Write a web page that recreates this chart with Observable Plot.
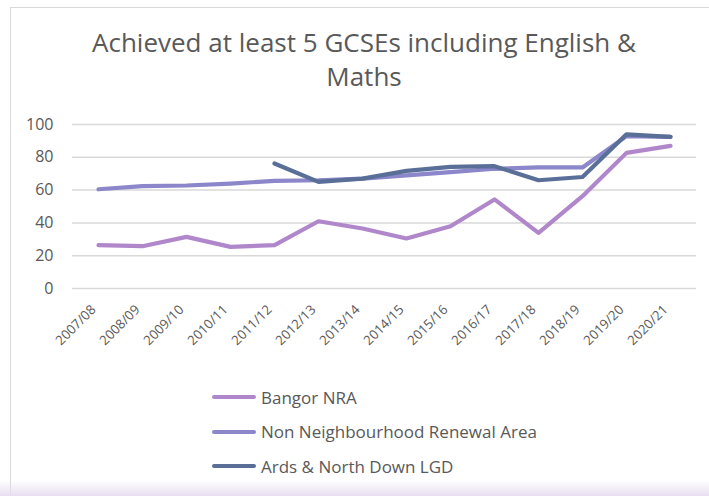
<!DOCTYPE html>
<html>
<head>
<meta charset="utf-8">
<script src="https://cdn.jsdelivr.net/npm/d3@7"></script>
<script src="https://cdn.jsdelivr.net/npm/@observablehq/plot@0.6"></script>
<style>
  html, body { margin: 0; padding: 0; background: #fff; }
  #root { position: relative; width: 709px; height: 496px; overflow: hidden; background: #fff; font-family: "Open Sans", sans-serif; color: #595959; }
  #frame { position: absolute; left: 10px; top: 7px; width: 740px; height: 520px; border: 1px solid #d9d9d9; box-sizing: border-box; }
  #title { position: absolute; left: 79px; width: 570px; top: 25px; text-align: center; font-size: 26px; line-height: 34px; color: #595959; }
  #chart { position: absolute; left: 0; top: 0; }
  #legend { position: absolute; left: 212px; top: 380px; font-size: 17px; color: #595959; }
  .item { display: flex; align-items: center; height: 34.5px; }
  .sw { width: 44px; height: 4px; border-radius: 2px; margin-right: 5px; }
  #fade { position: absolute; left: 0; right: 0; bottom: 0; height: 16px; background: linear-gradient(to bottom, rgba(236,228,242,0), rgba(232,222,240,1)); }
</style>
</head>
<body>
<div id="root">
  <div id="frame"></div>
  <div id="title"></div>
  <div id="chart"></div>
  <div id="legend"></div>
  <div id="fade"></div>
</div>
<script>
const titleText = "Achieved at least 5 GCSEs including English & Maths";
const years = ["2007/08","2008/09","2009/10","2010/11","2011/12","2012/13","2013/14","2014/15","2015/16","2016/17","2017/18","2018/19","2019/20","2020/21"];
const bangorNRA = [26.4, 25.8, 31.5, 25.4, 26.4, 41.0, 36.6, 30.5, 38.0, 54.3, 33.9, 56.3, 82.7, 87.0];
const nonNRA = [60.5, 62.4, 62.8, 64.0, 65.6, 66.0, 67.0, 69.0, 71.0, 73.0, 73.8, 73.8, 92.9, 92.5];
const ardsLGD = [null, null, null, null, 76.2, 65.0, 67.0, 71.7, 74.2, 74.6, 66.0, 68.0, 94.0, 92.5];
const seriesNames = ["Bangor NRA", "Non Neighbourhood Renewal Area", "Ards & North Down LGD"];
const seriesColors = ["#b087ca", "#8c86ca", "#5a6f98"];
const yTicks = [0, 20, 40, 60, 80, 100];

document.getElementById("title").textContent = titleText;

const seriesValues = [bangorNRA, nonNRA, ardsLGD];
const rows = [];
seriesNames.forEach((name, si) => {
  years.forEach((yr, i) => {
    rows.push({series: name, year: yr, value: seriesValues[si][i]});
  });
});

const chart = Plot.plot({
  width: 709,
  height: 370,
  marginLeft: 72,
  marginRight: 13,
  marginTop: 124,
  marginBottom: 82,
  style: {fontFamily: "Open Sans, sans-serif", fontSize: "14px", color: "#595959", background: "transparent"},
  x: {type: "point", domain: years, padding: 0.5},
  y: {domain: [0, 100]},
  color: {domain: seriesNames, range: seriesColors},
  marks: [
    Plot.ruleY(yTicks, {stroke: "#d9d9d9", strokeWidth: 1.5}),
    Plot.axisY({ticks: yTicks, tickSize: 0, tickPadding: 19, fontSize: 16, label: null}),
    Plot.axisX({tickSize: 0, tickRotate: -45, tickPadding: 8, dx: -5, dy: 11, fontSize: 13.2, label: null}),
    Plot.line(rows, {x: "year", y: "value", z: "series", stroke: "series", strokeWidth: 4.2, strokeLinecap: "round", strokeLinejoin: "round", defined: d => d.value != null})
  ]
});
document.getElementById("chart").appendChild(chart);

const legend = document.getElementById("legend");
seriesNames.forEach((name, i) => {
  const it = document.createElement("div");
  it.className = "item";
  const sw = document.createElement("div");
  sw.className = "sw";
  sw.style.background = seriesColors[i];
  const tx = document.createElement("span");
  tx.textContent = name;
  it.appendChild(sw);
  it.appendChild(tx);
  legend.appendChild(it);
});
</script>
</body>
</html>
